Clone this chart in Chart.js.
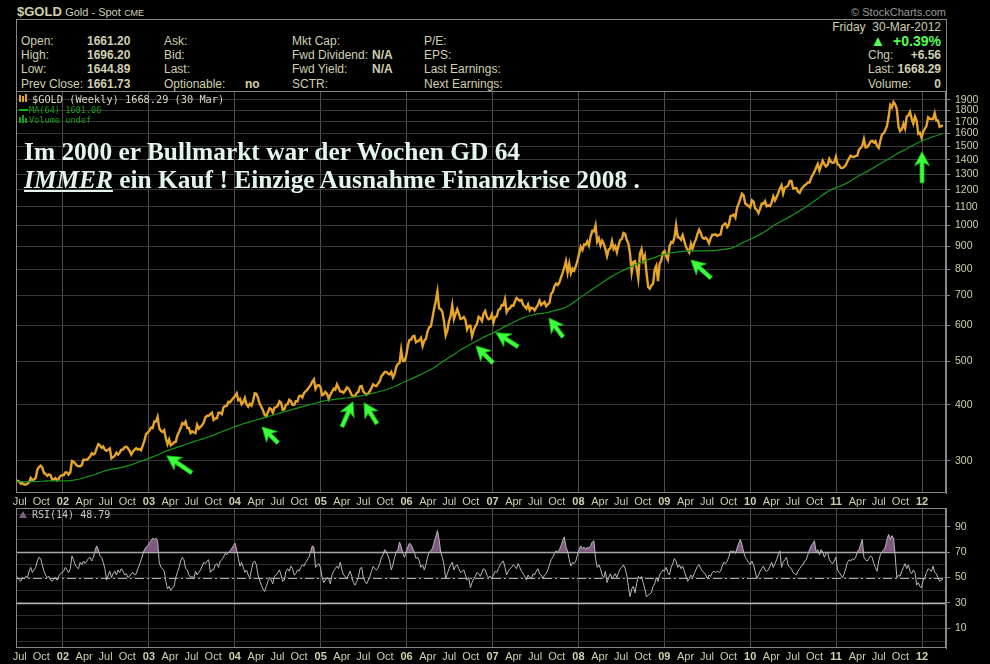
<!DOCTYPE html>
<html>
<head>
<meta charset="utf-8">
<title>$GOLD Weekly</title>
<script src="https://cdn.jsdelivr.net/npm/chart.js@4.4.1/dist/chart.umd.min.js"></script>
<style>
    body { margin: 0; background: #000; width: 990px; height: 664px; overflow: hidden; position: relative;
           font-family: "Liberation Sans", Arial, sans-serif; color: #d0d0b0; }
    .t { position: absolute; white-space: nowrap; font-size: 12px; line-height: 14px; }
    .b { font-weight: bold; }
    .mono { font-family: "DejaVu Sans Mono", monospace; }
    #box { position: absolute; left: 16px; top: 19px; width: 931px; height: 72px; border: 1px solid #888;
           border-bottom: none; box-sizing: border-box; }
    canvas { position: absolute; left: 0; }
    #priceChart { top: 91px; }
    #rsiChart { top: 508px; }
    #note { position: absolute; left: 24px; top: 137px; font-family: "Liberation Serif", "Times New Roman", serif;
            font-size: 25.4px; font-weight: bold; line-height: 28.4px; color: #e2f6ec; white-space: nowrap; }
    .ico { position: absolute; }
</style>
</head>
<body>

<div class="t" style="left:17px;top:3px;line-height:18px">
    <span style="font-size:13px;font-weight:bold">$GOLD</span>
    <span style="font-size:11px">Gold - Spot</span>
    <span style="font-size:9px">CME</span>
</div>
<div class="t" style="right:44px;top:5px;font-size:11px;color:#999">&copy; StockCharts.com</div>

<div id="box"></div>

<!-- 시세 정보 -->
<div class="t" style="left:21px;top:34px">Open:</div>
<div class="t" style="left:21px;top:48px">High:</div>
<div class="t" style="left:21px;top:62px">Low:</div>
<div class="t" style="left:21px;top:77px">Prev Close:</div>
<div class="t b" style="left:87px;top:34px">1661.20</div>
<div class="t b" style="left:87px;top:48px">1696.20</div>
<div class="t b" style="left:87px;top:62px">1644.89</div>
<div class="t b" style="left:87px;top:77px">1661.73</div>

<div class="t" style="left:164px;top:34px">Ask:</div>
<div class="t" style="left:164px;top:48px">Bid:</div>
<div class="t" style="left:164px;top:62px">Last:</div>
<div class="t" style="left:164px;top:77px">Optionable:</div>
<div class="t b" style="left:245px;top:77px">no</div>

<div class="t" style="left:292px;top:34px">Mkt Cap:</div>
<div class="t" style="left:292px;top:48px">Fwd Dividend:</div>
<div class="t" style="left:292px;top:62px">Fwd Yield:</div>
<div class="t" style="left:292px;top:77px">SCTR:</div>
<div class="t b" style="left:372px;top:48px">N/A</div>
<div class="t b" style="left:372px;top:62px">N/A</div>

<div class="t" style="left:424px;top:34px">P/E:</div>
<div class="t" style="left:424px;top:48px">EPS:</div>
<div class="t" style="left:424px;top:62px">Last Earnings:</div>
<div class="t" style="left:424px;top:77px">Next Earnings:</div>

<div class="t" style="right:49px;top:20px">Friday&nbsp; 30-Mar-2012</div>
<div class="t b" style="right:49px;top:33px;font-size:14px;line-height:16px;color:#55ff55">
    <span style="font-size:15px">&#9650;</span>&nbsp; +0.39%</div>
<div class="t" style="left:868px;top:48px">Chg:</div>
<div class="t" style="left:868px;top:62px">Last:</div>
<div class="t" style="left:868px;top:77px">Volume:</div>
<div class="t b" style="right:49px;top:48px">+6.56</div>
<div class="t b" style="right:49px;top:62px">1668.29</div>
<div class="t b" style="right:49px;top:77px">0</div>

<canvas id="priceChart" width="990" height="418"></canvas>
<canvas id="rsiChart" width="990" height="156"></canvas>

<!-- 범례 -->
<div class="ico" style="left:19px;top:95px;width:2px;height:7px;background:#e6a52a"></div>
<div class="ico" style="left:22px;top:96px;width:2px;height:6px;background:#e6a52a"></div>
<div class="ico" style="left:25px;top:94px;width:2px;height:8px;background:#e6a52a"></div>
<div class="t mono" style="left:32px;top:92px;font-size:10.3px;color:#ddd6c0">$GOLD (Weekly) 1668.29 (30 Mar)</div>
<div class="ico" style="left:19px;top:109px;width:9px;height:2px;background:#10b010"></div>
<div class="t mono" style="left:29px;top:103px;font-size:8.6px;color:#10a010">MA(64) 1601.06</div>
<div class="ico" style="left:19px;top:117px;width:2px;height:6px;background:#10a010"></div>
<div class="ico" style="left:22px;top:115px;width:2px;height:8px;background:#10a010"></div>
<div class="ico" style="left:25px;top:118px;width:2px;height:5px;background:#10a010"></div>
<div class="t mono" style="left:29px;top:113px;font-size:8.6px;color:#10a010">Volume undef</div>

<div class="ico" style="left:19px;top:511px;width:0;height:0;border-left:4px solid transparent;border-right:4px solid transparent;border-bottom:7px solid #806080"></div>
<div class="t mono" style="left:32px;top:508px;font-size:10px;color:#c8c8c8">RSI(14) 48.79</div>

<div id="note">Im 2000 er Bullmarkt war der Wochen GD 64<br><i><u>IMMER</u></i> ein Kauf ! Einzige Ausnahme Finanzkrise 2008 .</div>

<script>
// 주간 종가 (2001-06-15 금요일부터 매주)
const firstWeek = Date.UTC(2001, 5, 15);
const gold2001 = [272,271,270,267,268,266,266,267,269,275,272,273,275,287,291,293,290,282,281,278,280,279,273,273,275,272,274,278,279];
const gold2002 = [279,283,283,280,283,300,299,296,293,292,292,294,302,302,302,304,307,312,310,312,320,327,325,321,323,318,316,318,320,304,306,308,313,310,313,318,318,322,323,320,316,310,315,318,320,318,319,317,325,333,344,347];
const gold2003 = [350,356,355,367,367,376,355,350,348,351,337,327,335,325,327,330,331,342,348,355,364,362,367,355,355,346,349,347,346,361,354,357,360,365,375,378,378,381,384,370,373,373,384,384,381,395,397,398,406,405,410,414];
const gold2004 = [418,424,409,412,401,405,414,401,396,402,398,408,424,423,414,402,396,389,380,377,385,393,391,384,394,395,398,407,404,390,391,400,401,410,407,400,400,407,407,418,419,415,425,428,432,437,442,450,455,434,441,442,438];
const gold2005 = [420,422,427,423,412,421,427,434,432,444,436,428,428,425,430,437,435,428,420,418,418,425,427,439,440,428,424,421,424,429,436,444,441,440,446,451,463,467,473,473,469,467,473,460,468,485,493,495,530,500,500,513];
const gold2006 = [540,557,558,567,569,550,553,556,563,540,555,560,582,594,597,624,654,680,714,655,652,643,612,570,584,613,630,665,620,636,652,637,620,622,626,617,588,598,599,568,585,597,605,627,623,614,638,646,627,619,621,635];
const gold2007 = [609,627,628,649,652,666,665,686,642,652,655,664,663,677,690,685,680,683,667,661,654,668,648,657,655,648,658,666,681,666,672,677,662,668,673,705,712,733,743,738,747,767,785,806,833,786,823,783,802,794,812,836];
const gold2008 = [865,897,882,908,907,922,903,946,973,970,1001,920,937,904,925,911,886,855,885,890,923,887,900,872,904,928,933,962,958,928,912,864,787,830,833,806,763,865,886,837,857,787,730,724,736,742,798,814,752,822,836,871];
const gold2009 = [878,854,839,899,919,915,941,1002,942,940,930,952,923,897,883,871,911,888,914,930,958,979,962,939,934,940,930,913,937,954,954,956,948,953,955,996,1006,1011,991,1004,1049,1052,1057,1041,1096,1118,1147,1176,1166,1119,1112,1104];
const gold2010 = [1096,1138,1130,1091,1083,1066,1090,1119,1118,1133,1103,1108,1104,1125,1161,1136,1156,1180,1209,1229,1177,1213,1219,1227,1256,1256,1209,1210,1211,1188,1181,1204,1216,1227,1236,1246,1246,1276,1297,1317,1344,1370,1325,1359,1393,1367,1352,1363,1406,1384,1378,1380,1421];
const gold2011 = [1369,1360,1342,1341,1349,1361,1388,1409,1429,1421,1419,1428,1429,1474,1486,1504,1556,1491,1493,1511,1536,1542,1529,1540,1500,1486,1542,1594,1601,1628,1663,1743,1852,1829,1880,1857,1812,1657,1620,1636,1683,1642,1746,1755,1788,1725,1683,1746,1711,1598,1606,1566];
const gold2012 = [1616,1640,1665,1739,1725,1724,1724,1776,1711,1711,1656,1662,1668.29];

// RSI(14) 주간 값
const rsi2001 = [52,50,48,47,50,49,51,50,55,58,54,56,58,63,66,65,60,55,52,50,51,48,47,49,50,48,51,53,54];
const rsi2002 = [55,58,56,54,57,67,64,60,58,57,62,60,63,61,63,65,66,63,66,71,75,72,67,66,62,57,48,52,55,50,53,55,52,56,54,57,55,52,53,50,51,53,54,52,53,57,60,64,68,72,74,75];
const rsi2003 = [77,79,81,80,81,79,62,58,57,55,47,41,43,40,42,43,50,54,58,63,66,64,57,56,52,50,51,49,55,52,54,56,59,62,61,63,64,54,56,56,60,61,58,63,64,66,69,68,70,71,73,75];
const rsi2004 = [77,72,65,59,62,58,54,56,52,50,56,62,63,60,52,48,44,41,39,43,47,50,48,45,51,52,54,56,52,47,48,55,57,55,59,57,52,53,56,55,58,60,59,62,64,66,70,75,74,58,60,61,58];
const rsi2005 = [50,46,48,50,49,45,52,55,57,59,57,62,56,52,51,49,52,55,51,46,44,47,50,57,58,50,47,45,48,51,55,59,57,56,58,61,66,68,72,70,67,63,56,60,66,70,72,78,74,69,66,70];
const rsi2006 = [74,77,76,73,70,65,66,63,58,60,56,60,66,70,71,73,78,82,87,80,70,66,60,49,53,57,60,62,56,59,60,57,54,55,56,52,48,50,42,46,49,51,54,53,51,54,57,56,52,50,51,49];
const rsi2007 = [52,55,54,57,60,62,63,58,52,55,57,58,60,59,57,61,58,55,53,51,48,52,50,49,53,52,55,57,53,52,49,52,53,56,60,64,66,69,71,70,72,75,79,82,74,71,64,59,62,61,63,68];
const rsi2008 = [72,75,73,74,72,74,73,75,78,79,65,58,60,57,52,50,55,46,50,53,49,51,53,50,54,57,58,60,57,52,43,35,41,43,38,45,51,49,51,46,41,35,36,37,38,43,45,50,47,52,54,56];
const rsi2009 = [55,58,54,52,58,61,65,63,58,60,57,59,55,51,47,49,52,50,53,56,59,60,57,55,54,52,49,52,51,54,55,54,55,54,55,59,62,61,63,66,71,70,71,69,73,77,80,76,70,66,64,62];
const rsi2010 = [60,63,60,55,49,52,55,57,59,56,55,56,59,62,58,61,64,68,71,58,62,64,66,60,58,57,54,53,52,55,57,59,60,63,64,68,72,75,77,79,70,72,68,72,70,66,69,70,64,62,61,63,66];
const rsi2011 = [56,54,52,50,53,57,62,64,63,65,64,66,70,72,76,80,66,64,63,65,67,66,61,58,55,63,68,70,72,74,80,84,80,83,81,67,50,52,51,55,58,61,57,60,55,53,56,54,44,46,43,42];
const rsi2012 = [48,50,54,57,56,55,59,54,53,50,47,48,48.79];

// MA(64) 월별 값 (2001년 6월부터), 마지막 주 값
const ma2001 = [270,270,270,270,271,271,271];
const ma2002 = [271,272,274,277,280,284,287,289,291,294,298,302];
const ma2003 = [306,311,316,320,324,328,332,336,340,345,350,355];
const ma2004 = [360,364,368,372,376,380,384,388,392,396,400,404];
const ma2005 = [408,410,412,414,416,418,421,425,429,434,440,448];
const ma2006 = [455,463,471,480,492,504,516,529,540,551,562,572];
const ma2007 = [582,594,605,616,626,632,637,640,646,652,662,678];
const ma2008 = [696,714,732,750,768,784,798,812,825,838,848,858];
const ma2009 = [866,872,876,878,878,878,879,882,886,892,908,925];
const ma2010 = [940,958,980,1005,1025,1045,1068,1092,1120,1150,1180,1205];
const ma2011 = [1222,1242,1270,1298,1322,1352,1382,1410,1443,1470,1500,1528];
const ma2012 = [1552,1574,1592];
const maLast = 1601.06;

// 축 눈금
const monthNames = ['Jan', 'Apr', 'Jul', 'Oct'];
const priceTicks = [300,400,500,600,700,800,900,1000,1100,1200,1300,1400,1500,1600,1700,1800,1900];
const rsiLabels = [10,30,50,70,90];

// 매수 화살표 (끝점 날짜, 가격)
const arrowDates = ['2003-03-18','2004-04-26','2005-05-18','2005-07-04','2006-10-23','2007-01-16','2007-08-29','2009-04-24','2012-01-01'];
const arrowPrices = [308,357,406,404,540,578,623,838,1458];
const arrowTails = [[25,17],[16,16],[-11,25],[13,21],[17,17],[22,14],[14,19],[20,18],[0,31]];

const weeklyClose = [].concat(gold2001, gold2002, gold2003, gold2004, gold2005, gold2006, gold2007, gold2008, gold2009, gold2010, gold2011, gold2012);
const rsi14 = [].concat(rsi2001, rsi2002, rsi2003, rsi2004, rsi2005, rsi2006, rsi2007, rsi2008, rsi2009, rsi2010, rsi2011, rsi2012);
const maMonthly = [].concat(ma2001, ma2002, ma2003, ma2004, ma2005, ma2006, ma2007, ma2008, ma2009, ma2010, ma2011, ma2012);

const X_MIN = 2001.453, X_MAX = 2012.279;
const LABEL_COLOR = '#cfcfaa';
const FONT = '"Liberation Sans", Arial, sans-serif';

// 날짜 -> 소수 연도
function toYear(ms) {
    const y = new Date(ms).getUTCFullYear();
    const s = Date.UTC(y, 0, 1), e = Date.UTC(y + 1, 0, 1);
    return y + (ms - s) / (e - s);
}

const weekX = weeklyClose.map((v, i) => toYear(firstWeek + i * 7 * 86400000));
const priceData = weeklyClose.map((v, i) => ({ x: weekX[i], y: v }));
const rsiData = rsi14.map((v, i) => ({ x: weekX[i], y: v }));
const maData = maMonthly.map((v, i) => ({ x: 2001 + (5 + i + 0.5) / 12, y: v }));
maData.push({ x: weekX[weekX.length - 1], y: maLast });

Chart.defaults.font.family = FONT;
Chart.defaults.animation = false;

function quarterTicks(scale) {
    const ticks = [];
    for (let y = 2001; y <= 2012; y++) {
        for (let q = 0; q < 4; q++) {
            const v = toYear(Date.UTC(y, q * 3, 1));
            // 오른쪽 끝 라벨은 생략
            if (v >= X_MIN && v <= X_MAX - 0.1) {
                ticks.push({ value: v, text: q === 0 ? String(y).slice(2) : monthNames[q], major: q === 0 });
            }
        }
    }
    scale.ticks = ticks;
}

function timeAxis() {
    return {
        type: 'linear',
        min: X_MIN,
        max: X_MAX,
        bounds: 'data',
        afterBuildTicks: quarterTicks,
        afterFit(s) { s.height = 16; s.paddingLeft = 0; s.paddingRight = 0; },
        border: { display: false },
        grid: {
            drawTicks: false,
            color: c => (c.tick && c.tick.major) ? '#4e4e4e' : 'rgba(0,0,0,0)'
        },
        ticks: {
            autoSkip: false,
            maxRotation: 0,
            padding: 2,
            color: LABEL_COLOR,
            font: c => ({ family: FONT, size: 11, weight: (c.tick && c.tick.major) ? 'bold' : 'normal' }),
            callback: (v, i, t) => t[i].text
        }
    };
}

// 패널 테두리
const panelFrame = {
    id: 'panelFrame',
    afterDraw(chart) {
        const a = chart.chartArea, ctx = chart.ctx;
        ctx.save();
        ctx.strokeStyle = '#888';
        ctx.lineWidth = 1;
        ctx.strokeRect(a.left + 0.5, a.top + 0.5, a.right - a.left - 1, a.bottom - a.top - 1);
        ctx.restore();
    }
};

// 초록 화살표
const buyArrows = {
    id: 'buyArrows',
    afterDatasetsDraw(chart) {
        const ctx = chart.ctx, xs = chart.scales.x, ys = chart.scales.y;
        arrowDates.forEach((d, i) => {
            const tx = xs.getPixelForValue(toYear(Date.parse(d)));
            const ty = ys.getPixelForValue(arrowPrices[i]);
            const [dx, dy] = arrowTails[i];
            const len = Math.hypot(dx, dy);
            ctx.save();
            ctx.translate(tx, ty);
            ctx.rotate(Math.atan2(dy, dx));
            ctx.beginPath();
            ctx.moveTo(0, 0);
            ctx.lineTo(14, -7.5);
            ctx.lineTo(11, -2);
            ctx.lineTo(len, -2);
            ctx.lineTo(len, 2);
            ctx.lineTo(11, 2);
            ctx.lineTo(14, 7.5);
            ctx.closePath();
            ctx.fillStyle = '#3cff3c';
            ctx.fill();
            ctx.strokeStyle = '#18c018';
            ctx.lineWidth = 0.8;
            ctx.stroke();
            ctx.restore();
        });
    }
};

// RSI 기준선 30 / 50 / 70
const rsiLevels = {
    id: 'rsiLevels',
    beforeDatasetsDraw(chart) {
        const ctx = chart.ctx, a = chart.chartArea, ys = chart.scales.y;
        ctx.save();
        ctx.strokeStyle = '#b4b4b4';
        ctx.lineWidth = 1.5;
        [30, 70].forEach(v => {
            const y = Math.round(ys.getPixelForValue(v)) + 0.5;
            ctx.beginPath(); ctx.moveTo(a.left, y); ctx.lineTo(a.right, y); ctx.stroke();
        });
        ctx.lineWidth = 1;
        ctx.strokeStyle = '#a8a8a8';
        ctx.setLineDash([9, 3, 2, 3]);
        const y50 = Math.round(ys.getPixelForValue(50)) + 0.5;
        ctx.beginPath(); ctx.moveTo(a.left, y50); ctx.lineTo(a.right, y50); ctx.stroke();
        ctx.restore();
    }
};

// 가격 차트
new Chart(document.getElementById('priceChart'), {
    type: 'line',
    data: {
        datasets: [{
            label: 'MA(64)',
            data: maData,
            borderColor: '#179617',
            borderWidth: 1.2,
            pointRadius: 0,
            tension: 0.3
        }, {
            label: '$GOLD',
            data: priceData,
            borderColor: '#e6a52a',
            borderWidth: 2.4,
            pointRadius: 0,
            tension: 0
        }]
    },
    options: {
        responsive: false,
        layout: { padding: { left: 16, right: 0, top: 0, bottom: 0 } },
        plugins: { legend: { display: false }, tooltip: { enabled: false } },
        scales: {
            x: timeAxis(),
            y: {
                type: 'logarithmic',
                position: 'right',
                min: 254.7,
                max: 1989,
                bounds: 'data',
                afterBuildTicks(s) { s.ticks = priceTicks.map(v => ({ value: v })); },
                afterFit(s) { s.width = 44; s.paddingTop = 0; s.paddingBottom = 0; },
                border: { color: '#888' },
                grid: { color: '#383838', tickColor: '#888', tickLength: 4 },
                ticks: {
                    autoSkip: false,
                    padding: 5,
                    color: LABEL_COLOR,
                    font: { size: 10.5 },
                    callback: v => String(v)
                }
            }
        }
    },
    plugins: [panelFrame, buyArrows]
});

// RSI 차트
new Chart(document.getElementById('rsiChart'), {
    type: 'line',
    data: {
        datasets: [{
            label: 'RSI(14)',
            data: rsiData,
            borderColor: '#b8b8b8',
            borderWidth: 1,
            pointRadius: 0,
            tension: 0,
            fill: { target: { value: 70 }, above: '#7d5a7d', below: 'rgba(0,0,0,0)' }
        }]
    },
    options: {
        responsive: false,
        layout: { padding: { left: 16, right: 0, top: 0, bottom: 0 } },
        plugins: { legend: { display: false }, tooltip: { enabled: false } },
        scales: {
            x: timeAxis(),
            y: {
                type: 'linear',
                position: 'right',
                min: -5.5,
                max: 104.8,
                bounds: 'data',
                afterBuildTicks(s) { s.ticks = [0,10,20,30,40,50,60,70,80,90,100].map(v => ({ value: v })); },
                afterFit(s) { s.width = 44; s.paddingTop = 0; s.paddingBottom = 0; },
                border: { color: '#888' },
                grid: { color: '#2e2e2e', tickColor: c => rsiLabels.includes(c.tick && c.tick.value) ? '#888' : 'rgba(0,0,0,0)', tickLength: 4 },
                ticks: {
                    autoSkip: false,
                    padding: 5,
                    color: LABEL_COLOR,
                    font: { size: 10.5 },
                    callback: v => rsiLabels.includes(v) ? String(v) : ''
                }
            }
        }
    },
    plugins: [panelFrame, rsiLevels]
});
</script>
</body>
</html>
